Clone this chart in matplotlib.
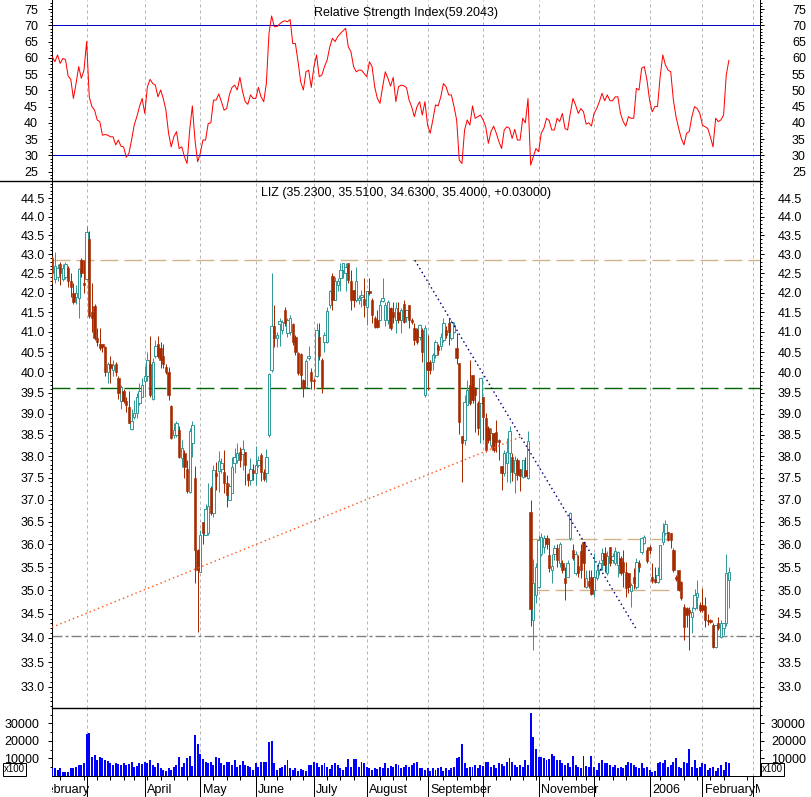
import numpy as np
import pandas as pd
import matplotlib
matplotlib.use("Agg")
import matplotlib.pyplot as plt
from matplotlib.lines import Line2D
from matplotlib.ticker import FixedLocator, FormatStrFormatter, NullFormatter

plt.rcParams['font.family'] = ['Liberation Sans', 'DejaVu Sans']
plt.rcParams['lines.scale_dashes'] = False

# trading calendar (NYSE holidays), day 0 = 2005-02-09
holidays = ["2005-02-21", "2005-03-25", "2005-05-30", "2005-07-04", "2005-09-05",
            "2005-11-24", "2005-12-26", "2006-01-02", "2006-01-16", "2006-02-20"]
first_day = "2005-02-09"

opens = [
    42.9, 42.35, 42.4, 42.75, 42.35, 42.4, 42.65, 42.3, 42.0, 41.9,
    41.85, 42.85, 42.25, 42.35, 43.4, 41.5, 41.65, 40.85, 40.7, 40.7,
    40.62, 40.0, 40.2, 40.05, 40.2, 39.85, 39.3, 39.55, 39.3, 39.15,
    38.63, 38.92, 39.02, 39.25, 39.4, 39.8, 39.9, 40.2, 39.35, 40.4,
    40.7, 40.6, 40.4, 40.12, 40.02, 39.19, 38.5, 38.5, 38.62, 37.95,
    38.07, 37.71, 37.17, 38.31, 37.49, 35.88, 35.4, 36.5, 36.21, 36.25,
    37.26, 36.7, 37.62, 37.65, 37.7, 37.64, 37.38, 37.0, 37.16, 37.85,
    37.91, 38.09, 38.06, 38.09, 37.58, 37.45, 37.68, 37.6, 37.8, 38.02,
    37.63, 37.6, 38.5, 40.05, 41.16, 40.85, 41.19, 41.05, 41.56, 40.97,
    41.01, 41.2, 40.88, 40.47, 40.45, 39.82, 39.65, 40.35, 40.02, 39.82,
    39.9, 40.87, 40.31, 40.75, 40.76, 41.68, 42.43, 41.81, 42.2, 42.37,
    42.59, 42.5, 42.76, 42.29, 42.07, 41.81, 41.8, 41.9, 41.83, 41.64,
    42.03, 41.81, 41.35, 41.3, 41.3, 41.78, 41.3, 41.3, 41.6, 41.5,
    41.3, 41.5, 41.3, 41.72, 41.39, 41.68, 41.3, 41.1, 41.05, 40.88,
    41.05, 39.45, 40.26, 40.26, 40.26, 40.43, 40.64, 40.64, 40.8, 41.05,
    41.22, 40.85, 41.0, 40.6, 40.22, 38.46, 38.38, 39.21, 39.7, 39.94,
    39.6, 39.25, 39.25, 39.4, 38.9, 38.65, 38.26, 38.53, 38.57, 38.38,
    37.76, 37.6, 37.85, 38.07, 37.99, 37.6, 37.92, 37.7, 37.52, 37.68,
    37.5, 36.73, 34.37, 34.9, 35.08, 35.8, 35.95, 36.14, 35.77, 35.44,
    35.8, 35.92, 35.6, 35.59, 35.26, 35.3, 36.15, 35.88, 35.37, 35.52,
    35.85, 36.06, 35.08, 35.2, 35.3, 35.0, 35.26, 35.44, 35.66, 35.81,
    35.37, 35.95, 35.66, 35.59, 35.55, 35.7, 35.62, 35.4, 35.37, 34.98,
    35.3, 35.07, 35.59, 35.84, 36.03, 35.88, 35.95, 35.3, 35.24, 35.18,
    35.24, 36.05, 36.25, 36.28, 36.25, 35.88, 35.3, 35.44, 35.18, 34.65,
    34.62, 34.58, 34.44, 34.62, 34.87, 34.69, 34.69, 34.66, 34.37, 34.37,
    34.27, 33.8, 34.3, 34.01, 34.2, 34.3, 35.23]
highs = [
    42.95, 43.05, 42.75, 42.8, 42.75, 42.8, 42.7, 42.5, 42.25, 42.2,
    42.65, 42.9, 42.85, 43.75, 43.62, 42.25, 41.7, 41.1, 41.1, 40.7,
    40.65, 40.25, 40.4, 40.3, 40.25, 39.9, 39.7, 39.6, 39.4, 39.55,
    39.12, 39.32, 39.5, 39.75, 39.85, 40.15, 40.5, 40.9, 40.35, 40.8,
    40.9, 40.75, 40.7, 40.2, 40.14, 39.2, 38.78, 38.83, 38.7, 38.38,
    38.15, 37.9, 38.66, 38.82, 37.77, 35.9, 36.33, 36.5, 36.9, 37.38,
    37.3, 37.8, 37.86, 38.11, 37.95, 38.15, 37.57, 37.38, 37.99, 38.19,
    38.31, 38.22, 38.38, 38.1, 37.6, 37.95, 37.82, 38.23, 38.0, 38.08,
    37.7, 38.17, 39.98, 42.52, 41.68, 41.0, 41.35, 41.3, 41.64, 41.35,
    41.43, 41.22, 40.92, 40.5, 40.47, 39.84, 40.33, 40.65, 40.1, 39.85,
    41.22, 41.22, 40.35, 41.0, 41.64, 42.07, 42.5, 42.41, 42.38, 42.78,
    42.78, 42.78, 42.78, 42.59, 42.07, 42.67, 41.95, 42.07, 42.37, 42.03,
    42.37, 41.85, 41.4, 41.55, 41.81, 42.37, 41.77, 41.8, 41.62, 41.77,
    41.77, 41.77, 41.6, 41.8, 41.56, 41.68, 41.35, 41.22, 41.1, 41.2,
    41.1, 41.18, 40.93, 40.3, 40.47, 40.8, 40.7, 40.97, 41.35, 41.14,
    41.35, 41.3, 41.26, 40.97, 40.22, 38.46, 39.45, 39.82, 40.3, 39.94,
    39.65, 39.3, 39.85, 39.4, 39.02, 38.7, 38.65, 38.55, 38.85, 38.4,
    37.76, 38.15, 38.42, 38.7, 38.07, 38.0, 37.95, 37.7, 37.92, 37.99,
    38.6, 37.0, 35.67, 35.6, 36.2, 36.25, 36.2, 36.2, 36.15, 35.8,
    35.99, 36.0, 36.06, 35.66, 35.5, 35.66, 36.72, 36.0, 35.85, 35.77,
    36.0, 36.06, 35.44, 35.44, 35.44, 35.81, 35.55, 35.66, 35.92, 35.95,
    35.85, 35.95, 35.81, 35.95, 35.85, 35.74, 35.88, 35.62, 35.37, 35.15,
    35.48, 35.7, 35.66, 36.17, 36.2, 35.95, 35.99, 35.59, 35.5, 35.51,
    35.99, 36.47, 36.55, 36.28, 36.25, 35.92, 35.33, 35.44, 35.2, 34.72,
    34.65, 34.65, 34.65, 35.04, 35.22, 34.75, 35.05, 34.87, 34.5, 34.4,
    34.3, 34.27, 34.44, 34.37, 34.3, 35.78, 35.51]
lows = [
    42.25, 42.25, 42.3, 42.2, 42.3, 42.35, 42.15, 41.9, 41.7, 41.7,
    41.35, 42.4, 42.0, 42.35, 41.35, 41.0, 40.8, 40.65, 40.55, 40.5,
    39.9, 39.75, 39.73, 39.9, 39.9, 39.35, 39.1, 39.25, 39.05, 38.78,
    38.62, 38.88, 38.9, 39.2, 39.4, 39.4, 39.8, 39.4, 39.33, 40.35,
    40.35, 40.1, 40.1, 39.95, 39.33, 38.4, 38.42, 38.45, 37.95, 37.75,
    37.49, 37.15, 37.15, 37.99, 35.15, 34.12, 35.4, 36.0, 36.2, 36.2,
    36.65, 36.62, 37.23, 37.18, 37.6, 37.16, 36.84, 37.0, 37.16, 37.61,
    37.83, 37.75, 37.67, 37.34, 37.32, 37.34, 37.45, 37.34, 37.75, 37.42,
    37.42, 37.4, 38.45, 40.0, 40.63, 40.62, 40.65, 40.95, 41.14, 40.88,
    40.93, 40.68, 40.43, 39.94, 39.61, 39.41, 39.62, 40.3, 39.6, 39.6,
    39.88, 40.3, 39.5, 40.5, 40.72, 41.6, 41.56, 41.8, 42.03, 42.03,
    42.37, 42.03, 42.24, 41.56, 41.64, 41.77, 41.7, 41.64, 41.39, 41.18,
    41.94, 41.22, 41.1, 41.1, 41.3, 41.75, 41.14, 41.2, 41.05, 41.22,
    40.97, 41.22, 40.97, 41.22, 41.26, 41.1, 41.2, 40.68, 40.7, 40.8,
    40.26, 39.4, 39.57, 39.95, 40.05, 40.35, 40.43, 40.55, 40.76, 40.85,
    40.68, 40.8, 40.97, 40.2, 38.52, 37.4, 38.26, 39.21, 39.2, 39.25,
    38.57, 38.5, 38.3, 38.38, 38.1, 38.3, 38.2, 38.1, 38.1, 37.9,
    37.22, 37.55, 37.4, 37.38, 37.43, 37.15, 37.45, 37.2, 37.5, 37.52,
    37.48, 34.25, 33.75, 34.73, 35.05, 35.75, 35.81, 35.9, 35.4, 35.15,
    35.66, 35.5, 35.5, 35.37, 34.8, 35.3, 36.1, 35.66, 35.33, 35.3,
    35.26, 35.08, 35.05, 35.05, 34.9, 34.85, 35.22, 35.33, 35.44, 35.4,
    35.33, 35.52, 35.59, 35.55, 35.3, 35.33, 35.07, 34.87, 34.94, 34.65,
    35.04, 35.04, 35.4, 35.8, 36.0, 35.6, 35.8, 35.15, 35.15, 35.15,
    35.24, 35.99, 36.2, 36.07, 35.92, 35.4, 35.2, 34.98, 34.8, 33.95,
    34.23, 33.75, 34.1, 34.58, 34.6, 34.55, 34.55, 34.23, 34.27, 34.3,
    33.78, 33.78, 34.16, 33.99, 34.05, 34.25, 34.63]
closes = [
    42.5, 42.7, 42.65, 42.5, 42.65, 42.75, 42.3, 42.15, 41.75, 42.0,
    42.6, 42.5, 42.2, 43.6, 41.4, 41.35, 40.85, 40.75, 40.6, 40.62,
    40.0, 40.2, 40.1, 40.18, 40.0, 39.5, 39.65, 39.3, 39.2, 38.78,
    38.83, 39.02, 39.4, 39.55, 39.7, 39.9, 40.3, 39.45, 40.25, 40.65,
    40.4, 40.3, 40.2, 40.02, 39.45, 38.42, 38.62, 38.77, 37.99, 38.19,
    37.74, 37.19, 38.58, 38.73, 35.88, 35.44, 36.21, 36.25, 36.8, 36.85,
    36.7, 37.68, 37.55, 37.89, 37.83, 37.38, 37.1, 37.31, 37.75, 37.99,
    38.07, 37.91, 38.16, 37.8, 37.45, 37.71, 37.6, 37.8, 37.9, 37.63,
    37.46, 37.97, 39.95, 41.15, 40.84, 40.92, 41.27, 41.26, 41.22, 41.3,
    41.35, 40.76, 40.51, 39.98, 39.94, 39.61, 40.29, 40.4, 39.78, 39.78,
    41.05, 40.39, 39.65, 40.92, 41.52, 42.03, 41.81, 42.29, 42.29, 42.59,
    42.76, 42.67, 42.33, 41.81, 41.81, 42.29, 41.85, 41.95, 41.68, 42.03,
    41.98, 41.43, 41.12, 41.12, 41.68, 41.85, 41.68, 41.77, 41.1, 41.39,
    41.6, 41.3, 41.55, 41.26, 41.55, 41.3, 41.26, 40.8, 40.76, 41.18,
    40.51, 41.1, 40.05, 40.05, 40.43, 40.76, 40.55, 40.88, 41.22, 40.93,
    41.0, 41.26, 41.18, 40.35, 38.8, 38.3, 39.29, 39.57, 39.25, 39.33,
    39.45, 38.65, 39.85, 38.92, 38.14, 38.38, 38.53, 38.14, 38.34, 38.34,
    37.6, 38.07, 38.1, 38.6, 37.64, 37.92, 37.57, 37.55, 37.9, 37.55,
    38.35, 34.6, 35.15, 35.5, 36.1, 36.17, 36.14, 36.0, 35.48, 35.52,
    35.92, 35.66, 36.0, 35.44, 35.15, 35.59, 36.7, 35.7, 35.8, 35.37,
    35.44, 35.59, 35.26, 35.1, 34.93, 35.3, 35.44, 35.59, 35.81, 35.55,
    35.74, 35.59, 35.74, 35.85, 35.84, 35.37, 35.4, 35.05, 35.07, 35.12,
    35.15, 35.62, 35.51, 36.15, 36.17, 35.63, 35.88, 35.2, 35.18, 35.33,
    35.99, 36.28, 36.45, 36.1, 36.1, 35.44, 35.24, 35.0, 34.83, 34.23,
    34.48, 34.51, 34.55, 34.9, 34.94, 34.58, 34.58, 34.37, 34.35, 34.33,
    33.8, 34.27, 34.2, 34.3, 34.3, 35.37, 35.40]
volume = [
    4400, 4400, 3400, 4400, 2500, 2500, 2500, 4400, 4400, 5300,
    6300, 6300, 7200, 23700, 24300, 11000, 12000, 9100, 11000, 10000,
    9100, 8700, 7200, 6300, 7600, 6800, 6300, 7200, 6300, 6800,
    8200, 5300, 5700, 7200, 6800, 8200, 7600, 9100, 6300, 5300,
    7200, 4400, 3400, 3000, 4400, 3400, 5300, 6300, 11000, 5300,
    7200, 10000, 11400, 5700, 23300, 18200, 12300, 9500, 8200, 7600,
    8200, 6300, 11000, 10000, 7200, 6300, 8200, 8200, 6300, 9100,
    5300, 6300, 8700, 6300, 5700, 5300, 3400, 7200, 5300, 8200,
    8200, 8200, 19500, 19900, 7200, 3400, 4400, 5300, 6300, 9100,
    4400, 3400, 4400, 3000, 3800, 3400, 3000, 6300, 6300, 8200,
    7200, 5300, 6300, 7200, 5300, 3800, 6300, 7200, 6300, 4400,
    3400, 5300, 9500, 5300, 9500, 9500, 5300, 8200, 7600, 5300,
    4400, 3400, 4400, 3800, 5300, 4400, 7600, 4400, 5700, 5300,
    6800, 6300, 4400, 5300, 6300, 5300, 6300, 7200, 8200, 4400,
    4400, 3400, 4400, 3000, 4400, 3400, 4400, 5300, 3000, 4400,
    3400, 4400, 5300, 10000, 10600, 18200, 7600, 4400, 5300, 5300,
    6300, 4400, 6300, 5700, 8200, 8200, 5300, 6300, 4400, 7200,
    6800, 5700, 8200, 10000, 8200, 6300, 5300, 6300, 5300, 9100,
    6300, 35700, 22400, 15200, 11000, 10600, 10000, 9100, 9500, 12500,
    11400, 9100, 9100, 7600, 6300, 7200, 5300, 11400, 6300, 5300,
    4400, 11400, 5700, 5300, 11400, 5300, 3400, 7200, 9100, 7600,
    7200, 6300, 5300, 6300, 4400, 5300, 4400, 6300, 8200, 7600,
    6300, 5300, 4400, 7200, 4400, 5300, 3400, 2500, 3000, 7200,
    8200, 7200, 9100, 5300, 6300, 8200, 10000, 5300, 4400, 8200,
    7200, 15400, 5300, 9100, 4400, 5300, 7200, 6800, 3400, 4400,
    5300, 3000, 4400, 6300, 3400, 8200, 7600]
rsi = [
    60.3, 58.8, 60.9, 58.3, 59.8, 59.5, 54.4, 53.4, 47.5, 52.1,
    57.3, 53.7, 56.2, 65.0, 48.0, 45.0, 43.9, 40.9, 40.3, 36.2,
    36.4, 36.2, 35.7, 35.7, 33.2, 34.7, 32.8, 32.6, 29.4, 30.6,
    34.7, 39.3, 41.9, 45.0, 47.5, 42.9, 51.1, 53.4, 52.1, 51.6,
    48.0, 50.1, 47.5, 43.9, 36.8, 32.6, 35.7, 37.3, 32.1, 32.6,
    29.6, 27.5, 37.8, 45.2, 34.7, 28.0, 30.6, 34.7, 34.7, 39.8,
    40.0, 47.0, 47.0, 48.9, 46.5, 43.9, 44.4, 48.6, 50.9, 51.6,
    50.1, 54.0, 49.6, 46.5, 45.7, 48.6, 47.5, 47.5, 50.9, 48.0,
    46.5, 52.1, 67.5, 72.9, 69.6, 69.6, 70.4, 71.1, 71.4, 71.1,
    71.8, 64.4, 64.4, 58.8, 52.6, 50.1, 55.7, 56.2, 50.9, 57.3,
    60.9, 54.2, 54.7, 57.3, 59.3, 63.4, 66.0, 65.0, 66.5, 67.5,
    68.3, 69.1, 63.4, 61.9, 57.3, 55.7, 56.2, 56.2, 55.2, 54.2,
    58.8, 57.3, 51.1, 47.5, 46.0, 51.1, 55.7, 53.7, 51.3, 54.0,
    46.5, 51.1, 51.6, 51.4, 50.9, 47.0, 44.9, 41.9, 45.0, 46.5,
    42.4, 46.5, 39.3, 36.8, 40.9, 45.5, 45.2, 48.0, 52.1, 51.1,
    48.6, 48.6, 45.0, 40.9, 28.5, 27.5, 37.8, 40.9, 39.3, 45.2,
    41.4, 41.9, 42.4, 40.9, 38.8, 33.7, 37.3, 39.0, 36.8, 34.2,
    32.1, 37.8, 38.8, 38.3, 35.2, 38.0, 34.7, 34.7, 41.4, 40.0,
    47.5, 27.0, 29.6, 32.1, 31.1, 36.8, 38.3, 41.4, 40.7, 37.8,
    37.8, 41.4, 40.4, 42.9, 38.3, 37.8, 42.9, 47.5, 45.5, 42.9,
    44.4, 43.4, 39.6, 40.0, 39.0, 42.9, 44.4, 46.5, 49.1, 46.8,
    48.6, 46.8, 46.8, 48.0, 48.0, 42.9, 40.4, 39.0, 41.9, 41.4,
    41.4, 50.6, 50.1, 56.8, 57.3, 53.2, 47.0, 43.4, 45.0, 45.0,
    54.2, 60.9, 57.8, 56.2, 55.7, 47.0, 41.9, 38.3, 35.2, 33.2,
    36.8, 37.3, 41.9, 45.0, 44.4, 42.9, 39.3, 38.8, 38.3, 35.7,
    32.6, 41.4, 40.4, 40.9, 42.4, 54.7, 59.2]

# drawn reference lines: (day, price) pairs and levels
resistance = 42.84
support_mid = 39.61
support_low = 34.04
trend_up = [(-0.1, 34.22), (177.3, 38.45)]
trend_down = [(137.2, 42.84), (221.2, 34.16)]
box_top, box_bottom, box_span = 36.12, 35.01, (181.0, 233.5)

month_names = ["February", "March", "April", "May", "June", "July", "August",
               "September", "October", "November", "December", "2006",
               "February", "March"]
shown_months = ["February", "April", "May", "June", "July", "August",
                "September", "November", "2006", "February", "March"]

# ---------------------------------------------------------------------------
days = pd.bdate_range("2005-01-03", "2006-04-28", freq="C", holidays=holidays)
day0 = days.searchsorted(pd.Timestamp(first_day))
x = np.arange(len(closes))
month_starts = pd.date_range("2005-02-01", "2006-03-01", freq="MS")
month_x = [days.searchsorted(m) - day0 for m in month_starts]

W, H = 811, 797
fig = plt.figure(figsize=(W / 100, H / 100), dpi=100)
PX = 0.72  # one pixel in points
X0, X1 = 52, 760
XMIN = -0.1
XMAX = XMIN + (X1 - X0) / 2.643
FS = 9


def panel(top, bottom):
    return fig.add_axes([X0 / W, 1 - bottom / H, (X1 - X0) / W, (bottom - top) / H])


def style_axis(ax, ylim, major, minor, fmt, lpad, rpad, log=False):
    """left labels on ax, right labels on a twin so each side gets its own pad"""
    twin = ax.twinx()
    for a in (ax, twin):
        if log:
            a.set_yscale("log")
        a.set_ylim(*ylim)
        a.yaxis.set_major_locator(FixedLocator(major))
        a.yaxis.set_minor_locator(FixedLocator(minor))
        a.yaxis.set_major_formatter(FormatStrFormatter(fmt))
        a.yaxis.set_minor_formatter(NullFormatter())
        for s in a.spines.values():
            s.set_visible(False)
        a.tick_params(axis="y", which="both", direction="out", width=PX, labelsize=FS)
        a.tick_params(axis="y", which="major", length=4 * PX)
        a.tick_params(axis="y", which="minor", length=2 * PX)
    ax.spines["left"].set_visible(True)
    ax.spines["left"].set_linewidth(PX)
    twin.spines["right"].set_visible(True)
    twin.spines["right"].set_linewidth(PX)
    ax.tick_params(axis="y", which="major", pad=lpad * PX)
    twin.tick_params(axis="y", which="major", pad=rpad * PX)
    return twin


ax_rsi = panel(0, 181)
ax_px = panel(181, 708)
ax_vol = panel(708, 776)

grid_kw = dict(color="#b4b4b4", lw=PX, dashes=(3 * PX, 3 * PX), zorder=0)
for ax in (ax_rsi, ax_px, ax_vol):
    for mx in month_x[1:]:
        ax.axvline(mx, **grid_kw)

# --- RSI panel
ax_rsi.plot(x, rsi, color="#ff0000", lw=PX, zorder=3)
ax_rsi.axhline(70, color="#0000cc", lw=PX, zorder=2)
ax_rsi.axhline(30, color="#0000cc", lw=PX, zorder=2)
tw_rsi = style_axis(ax_rsi, (22.1, 77.8), np.arange(25, 76, 5), np.arange(23, 78, 1),
                    "%d", 10, 28)
ax_rsi.text(0.5, 0.93, "Relative Strength Index(59.2043)", transform=ax_rsi.transAxes,
            ha="center", va="center", fontsize=FS)

# --- price panel (log scale)
o = np.array(opens)
c = np.array(closes)
up = c >= o
col_up, col_dn = "#339999", "#a52a00"
wick_cols = np.where(up, col_up, col_dn)
ax_px.vlines(x, lows, highs, colors=wick_cols, lw=PX, zorder=3)
body_lo = np.minimum(o, c)
body_hi = np.maximum(o, c)
body_h = np.maximum(body_hi - body_lo, 0.02)
ax_px.bar(x[up], body_h[up], bottom=body_lo[up], width=0.9, color="white",
          edgecolor=col_up, lw=PX, zorder=4)
ax_px.bar(x[~up], body_h[~up], bottom=body_lo[~up], width=0.9, color=col_dn,
          edgecolor=col_dn, lw=PX * 0.6, zorder=4)

ax_px.axhline(resistance, color="#d2b48c", lw=1.0, dashes=(18 * PX, 6 * PX), zorder=2)
ax_px.axhline(support_mid, color="#006400", lw=1.0, dashes=(18 * PX, 6 * PX), zorder=2)
ax_px.axhline(support_low, color="#808080", lw=1.0,
              dashes=(10 * PX, 3 * PX, 3 * PX, 3 * PX), zorder=2)
ax_px.plot(*zip(*trend_up), color="#ff5a1e", lw=1.0, dashes=(1.5 * PX, 3 * PX), zorder=5)
ax_px.plot(*zip(*trend_down), color="#000080", lw=1.0, dashes=(1.5 * PX, 3 * PX), zorder=5)
for lvl in (box_top, box_bottom):
    ax_px.plot(box_span, [lvl, lvl], color="#d2b48c", lw=1.0, dashes=(18 * PX, 6 * PX), zorder=2)
tw_px = style_axis(ax_px, (32.57, 44.97), np.round(np.arange(33.0, 44.51, 0.5), 1),
                   np.round(np.arange(32.6, 44.95, 0.1), 1), "%.1f", 3, 14, log=True)
ax_px.text(0.5, 0.977, "LIZ (35.2300, 35.5100, 34.6300, 35.4000, +0.03000)",
           transform=ax_px.transAxes, ha="center", va="center", fontsize=FS)

# --- volume panel
vol = np.array(volume)
ax_vol.bar(x, vol, width=0.75, color="#0000ff", lw=0, zorder=3)
tw_vol = style_axis(ax_vol, (0, 38700), [10000, 20000, 30000], [5000, 15000, 25000, 35000],
                    "%d", 9, 7)
ax_vol.spines["bottom"].set_visible(True)
ax_vol.spines["bottom"].set_linewidth(PX)
for xpos in (4 / W, 762 / W):
    fig.text(xpos, 1 - 769.5 / H, "x100", fontsize=7, ha="left", va="center", zorder=10,
             bbox=dict(boxstyle="square,pad=0.15", fc="white", ec="black", lw=PX))

# x axis ticks & month labels
for ax in (ax_rsi, ax_px, tw_rsi, tw_px, tw_vol):
    ax.set_xticks([])
ax_vol.set_xticks(month_x, minor=False)
ax_vol.set_xticklabels([])
mondays = [i for i, d in enumerate(days[day0:day0 + 270]) if d.weekday() == 0]
ax_vol.set_xticks(mondays, minor=True)
ax_vol.tick_params(axis="x", which="major", direction="out", length=21 * PX, width=PX,
                   bottom=True)
ax_vol.tick_params(axis="x", which="minor", direction="out", length=4 * PX, width=PX,
                   bottom=True)

for ax in (ax_rsi, ax_px, ax_vol, tw_rsi, tw_px, tw_vol):
    ax.set_xlim(XMIN, XMAX)

lab_ax = fig.add_axes([X0 / W, 0, (X1 - X0) / W, 21 / H])
lab_ax.set_xlim(XMIN, XMAX)
lab_ax.set_ylim(0, 1)
lab_ax.axis("off")
shown = list(shown_months)
for name, mx in zip(month_names, month_x):
    if shown and name == shown[0]:
        shown.pop(0)
        lab_ax.text(mx + 0.9, 0.33, name, fontsize=FS, ha="left", va="center", clip_on=True)

# separators
fig.add_artist(Line2D([0, 762 / W], [1 - 181 / H] * 2, color="black", lw=PX * 1.4))
fig.add_artist(Line2D([X0 / W, X1 / W], [1 - 708 / H] * 2, color="black", lw=PX * 1.4))

fig.savefig("out.png", dpi=100)
